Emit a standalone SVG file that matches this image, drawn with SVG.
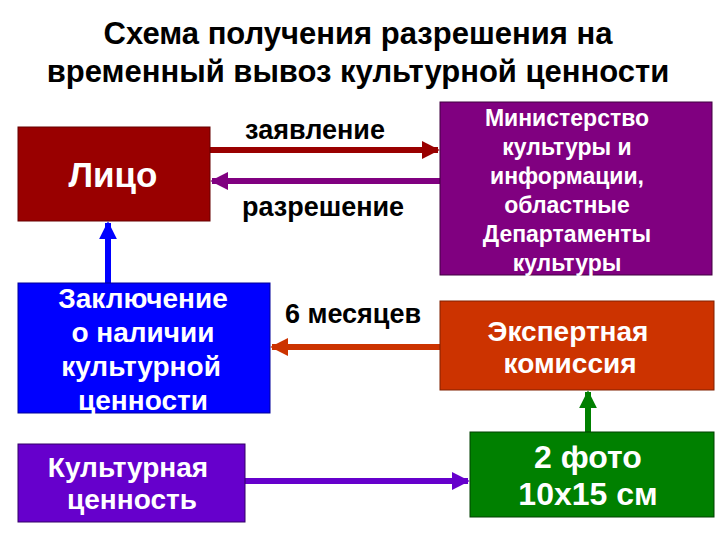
<svg xmlns="http://www.w3.org/2000/svg" width="720" height="540" viewBox="0 0 720 540">
<style>
text{font-family:"Liberation Sans",Arial,sans-serif;font-weight:bold;text-anchor:middle}
.w{fill:#fff}
.b{fill:#000}
</style>
<defs>
<marker id="mr" viewBox="0 0 10 10" refX="9" refY="5" markerWidth="3" markerHeight="3" orient="auto"><path d="M0,0L10,5L0,10z" fill="#990000"/></marker>
<marker id="mp" viewBox="0 0 10 10" refX="9" refY="5" markerWidth="3" markerHeight="3" orient="auto"><path d="M0,0L10,5L0,10z" fill="#800080"/></marker>
<marker id="mb" viewBox="0 0 10 10" refX="9" refY="5" markerWidth="3" markerHeight="3" orient="auto"><path d="M0,0L10,5L0,10z" fill="#0000ff"/></marker>
<marker id="mo" viewBox="0 0 10 10" refX="9" refY="5" markerWidth="3" markerHeight="3" orient="auto"><path d="M0,0L10,5L0,10z" fill="#cc3300"/></marker>
<marker id="mg" viewBox="0 0 10 10" refX="9" refY="5" markerWidth="3" markerHeight="3" orient="auto"><path d="M0,0L10,5L0,10z" fill="#008000"/></marker>
<marker id="mv" viewBox="0 0 10 10" refX="9" refY="5" markerWidth="3" markerHeight="3" orient="auto"><path d="M0,0L10,5L0,10z" fill="#6600cc"/></marker>
</defs>
<rect width="720" height="540" fill="#fff"/>
<text class="b" x="358" y="44" font-size="31">Схема получения разрешения на</text>
<text class="b" x="358" y="82" font-size="31">временный вывоз культурной ценности</text>
<g id="connectors" fill="none" stroke-width="6">
<line x1="210" y1="150" x2="438" y2="150" stroke="#990000" marker-end="url(#mr)"/>
<line x1="440" y1="181" x2="212" y2="181" stroke="#800080" marker-end="url(#mp)"/>
<line x1="108" y1="283" x2="108" y2="223" stroke="#0000ff" marker-end="url(#mb)"/>
<line x1="440" y1="347" x2="272" y2="347" stroke="#cc3300" marker-end="url(#mo)"/>
<line x1="588" y1="432" x2="588" y2="392" stroke="#008000" marker-end="url(#mg)"/>
<line x1="245" y1="481" x2="468" y2="481" stroke="#6600cc" marker-end="url(#mv)"/>
<text class="b" x="315" y="139" font-size="27">заявление</text>
<text class="b" x="323" y="216" font-size="27">разрешение</text>
<text class="b" x="353" y="323" font-size="27">6 месяцев</text>
</g>
<g id="litso"><rect x="18" y="127" width="192" height="94" fill="#990000" stroke="#600"/>
<text class="w" x="113" y="187" font-size="35">Лицо</text></g>
<g id="ministry"><rect x="440" y="102" width="272" height="173" fill="#800080" stroke="#400040"/>
<text class="w" x="567" y="126" font-size="23">Министерство</text>
<text class="w" x="567" y="155" font-size="23">культуры и</text>
<text class="w" x="567" y="184" font-size="23">информации,</text>
<text class="w" x="567" y="213" font-size="23">областные</text>
<text class="w" x="567" y="242" font-size="23">Департаменты</text>
<text class="w" x="567" y="271" font-size="23">культуры</text></g>
<g id="zakl"><rect x="18" y="283" width="252" height="130" fill="#0000ff" stroke="#000099"/>
<text class="w" x="143" y="308" font-size="28">Заключение</text>
<text class="w" x="143" y="342" font-size="28">о наличии</text>
<text class="w" x="141" y="376" font-size="28">культурной</text>
<text class="w" x="143" y="410" font-size="28">ценности</text></g>
<g id="expert"><rect x="440" y="301" width="274" height="89" fill="#cc3300" stroke="#802000"/>
<text class="w" x="568" y="341" font-size="28">Экспертная</text>
<text class="w" x="570" y="373" font-size="28">комиссия</text></g>
<g id="kult"><rect x="18" y="444" width="227" height="78" fill="#6600cc" stroke="#330066"/>
<text class="w" x="128" y="477" font-size="28">Культурная</text>
<text class="w" x="132" y="509" font-size="28">ценность</text></g>
<g id="foto"><rect x="470" y="432" width="244" height="85" fill="#008000" stroke="#004000"/>
<text class="w" x="588" y="468" font-size="32">2 фото</text>
<text class="w" x="588" y="505" font-size="32">10х15 см</text></g>
</svg>
